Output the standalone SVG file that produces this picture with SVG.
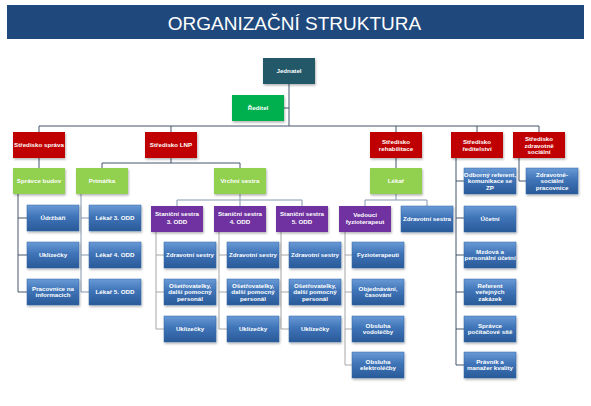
<svg xmlns="http://www.w3.org/2000/svg" width="591" height="406" viewBox="0 0 591 406">
<defs>
<linearGradient id="gBlue" x1="0" y1="0" x2="0" y2="1">
<stop offset="0" stop-color="#6a9ad6"/>
<stop offset="0.45" stop-color="#3f74b8"/>
<stop offset="1" stop-color="#2a5a98"/>
</linearGradient>
<filter id="sh" x="-10%" y="-10%" width="130%" height="140%">
<feDropShadow dx="0.8" dy="1.5" stdDeviation="0.8" flood-color="#000" flood-opacity="0.3"/>
</filter>
</defs>
<style>
.t{font-family:"Liberation Sans",Arial,sans-serif;font-size:6.2px;font-weight:bold;fill:#fff;text-anchor:middle}
.blue{fill:url(#gBlue);stroke:#3567a6;stroke-width:0.5;filter:url(#sh)}
.red{fill:#c00000;filter:url(#sh)}
.lg{fill:#92d050;filter:url(#sh)}
.dg{fill:#00b050;filter:url(#sh)}
.pu{fill:#7030a0;filter:url(#sh)}
.te{fill:#215868;filter:url(#sh)}
.c1{stroke:#44546a;stroke-width:1;fill:none}
.c2{stroke:#8497b0;stroke-width:1;fill:none}
.c3{stroke:#a6a6a6;stroke-width:1;fill:none}
</style>
<rect x="0" y="0" width="591" height="406" fill="#fff"/>
<g id="header">
<rect x="7" y="5" width="577" height="34" fill="#1f497d"/>
<text x="294.5" y="30" font-family="'Liberation Sans',Arial,sans-serif" font-size="19" fill="#fff" text-anchor="middle">ORGANIZAČNÍ STRUKTURA</text>
</g>
<g id="connectors">
<path class="c1" d="M289 84V126M284 108H289M39 126H539M39 126V132M171 126V132M396 126V132M477 126V132M539 126V132"/>
<path class="c1" d="M39 158V168M171 158V163M102 163H240M102 163V168M240 163V168M396 158V168M456 158V365M456 181H464M456 218H464M456 255H464M456 292H464M456 329H464M456 365H464M519 158V181H526"/>
<path class="c1" d="M18 194V292M18 218H27M18 255H27M18 292H27"/>
<path class="c2" d="M81 194V292M81 218H89M81 255H89M81 292H89"/>
<path class="c2" d="M240 194V200M177 200H302M177 200V206M240 200V206M302 200V206M396 194V200M365 200H427M365 200V206M427 200V206"/>
<path class="c3" d="M156 232V329M156 255H164M156 292H164M156 329H164M219 232V329M219 255H227M219 292H227M219 329H227M281 232V329M281 255H289M281 292H289M281 329H289M345 232V365M345 255H352M345 292H352M345 329H352M345 365H352"/>
</g>
<g id="jednatel"><rect class="te" x="263" y="58" width="52" height="26"/><text class="t" x="289" y="73">Jednatel</text></g>
<g id="reditel"><rect class="dg" x="232" y="95" width="52" height="26"/><text class="t" x="258" y="110">Ředitel</text></g>
<g id="str-sprava"><rect class="red" x="13" y="132" width="52" height="26"/><text class="t" x="39" y="147">Středisko správa</text></g>
<g id="str-lnp"><rect class="red" x="145" y="132" width="52" height="26"/><text class="t" x="171" y="147">Středisko LNP</text></g>
<g id="str-rehab"><rect class="red" x="370" y="132" width="52" height="26"/><text class="t" x="396" y="144">Středisko</text><text class="t" x="396" y="150.5">rehabilitace</text></g>
<g id="str-reditelstvi"><rect class="red" x="451" y="132" width="52" height="26"/><text class="t" x="477" y="144">Středisko</text><text class="t" x="477" y="150.5">ředitelství</text></g>
<g id="str-zdrsoc"><rect class="red" x="513" y="132" width="52" height="26"/><text class="t" x="539" y="141">Středisko</text><text class="t" x="539" y="147.5">zdravotně</text><text class="t" x="539" y="154">sociální</text></g>
<g id="spravce-budov"><rect class="lg" x="13" y="168" width="52" height="26"/><text class="t" x="39" y="183">Správce budov</text></g>
<g id="primarka"><rect class="lg" x="76" y="168" width="52" height="26"/><text class="t" x="102" y="183">Primářka</text></g>
<g id="vrchni-sestra"><rect class="lg" x="214" y="168" width="52" height="26"/><text class="t" x="240" y="183">Vrchní sestra</text></g>
<g id="lekar"><rect class="lg" x="370" y="168" width="52" height="26"/><text class="t" x="396" y="183">Lékař</text></g>
<g id="odborny-referent"><rect class="blue" x="464" y="168" width="52" height="26"/><text class="t" x="490" y="176.5">Odborný referent,</text><text class="t" x="490" y="183.2">komunikace se</text><text class="t" x="490" y="190">ZP</text></g>
<g id="zdrsoc-pracovnice"><rect class="blue" x="526" y="168" width="52" height="26"/><text class="t" x="552" y="176.5">Zdravotně-</text><text class="t" x="552" y="183.2">sociální</text><text class="t" x="552" y="190">pracovnice</text></g>
<g id="udrzbari"><rect class="blue" x="27" y="205" width="52" height="26"/><text class="t" x="53" y="220">Údržbáři</text></g>
<g id="uklizecky-1"><rect class="blue" x="27" y="242" width="52" height="26"/><text class="t" x="53" y="257">Uklízečky</text></g>
<g id="pracovnice-info"><rect class="blue" x="27" y="279" width="52" height="26"/><text class="t" x="53" y="290.5">Pracovnice na</text><text class="t" x="53" y="297">informacích</text></g>
<g id="lekar3"><rect class="blue" x="89" y="205" width="52" height="26"/><text class="t" x="115" y="220">Lékař 3. ODD</text></g>
<g id="lekar4"><rect class="blue" x="89" y="242" width="52" height="26"/><text class="t" x="115" y="257">Lékař 4. ODD</text></g>
<g id="lekar5"><rect class="blue" x="89" y="279" width="52" height="26"/><text class="t" x="115" y="294">Lékař 5. ODD</text></g>
<g id="stanicni3"><rect class="pu" x="151" y="206" width="52" height="26"/><text class="t" x="177" y="215.5">Staniční sestra</text><text class="t" x="177" y="224">3. ODD</text></g>
<g id="stanicni4"><rect class="pu" x="214" y="206" width="52" height="26"/><text class="t" x="240" y="215.5">Staniční sestra</text><text class="t" x="240" y="224">4. ODD</text></g>
<g id="stanicni5"><rect class="pu" x="276" y="206" width="52" height="26"/><text class="t" x="302" y="215.5">Staniční sestra</text><text class="t" x="302" y="224">5. ODD</text></g>
<g id="zdr-sestry3"><rect class="blue" x="164" y="242" width="52" height="26"/><text class="t" x="190" y="257">Zdravotní sestry</text></g>
<g id="zdr-sestry4"><rect class="blue" x="227" y="242" width="52" height="26"/><text class="t" x="253" y="257">Zdravotní sestry</text></g>
<g id="zdr-sestry5"><rect class="blue" x="289" y="242" width="52" height="26"/><text class="t" x="315" y="257">Zdravotní sestry</text></g>
<g id="osetrovatelky3"><rect class="blue" x="164" y="279" width="52" height="26"/><text class="t" x="190" y="287.5">Ošetřovatelky,</text><text class="t" x="190" y="294">další pomocný</text><text class="t" x="190" y="300.5">personál</text></g>
<g id="osetrovatelky4"><rect class="blue" x="227" y="279" width="52" height="26"/><text class="t" x="253" y="287.5">Ošetřovatelky,</text><text class="t" x="253" y="294">další pomocný</text><text class="t" x="253" y="300.5">personál</text></g>
<g id="osetrovatelky5"><rect class="blue" x="289" y="279" width="52" height="26"/><text class="t" x="315" y="287.5">Ošetřovatelky,</text><text class="t" x="315" y="294">další pomocný</text><text class="t" x="315" y="300.5">personál</text></g>
<g id="uklizecky3"><rect class="blue" x="164" y="316" width="52" height="26"/><text class="t" x="190" y="331">Uklízečky</text></g>
<g id="uklizecky4"><rect class="blue" x="227" y="316" width="52" height="26"/><text class="t" x="253" y="331">Uklízečky</text></g>
<g id="uklizecky5"><rect class="blue" x="289" y="316" width="52" height="26"/><text class="t" x="315" y="331">Uklízečky</text></g>
<g id="vedouci-fyzio"><rect class="pu" x="339" y="206" width="52" height="26"/><text class="t" x="365" y="216.5">Vedoucí</text><text class="t" x="365" y="223.5">fyzioterapeut</text></g>
<g id="zdr-sestra"><rect class="blue" x="401" y="206" width="52" height="26"/><text class="t" x="427" y="221">Zdravotní sestra</text></g>
<g id="fyzioterapeuti"><rect class="blue" x="352" y="242" width="52" height="26"/><text class="t" x="378" y="257">Fyzioterapeuti</text></g>
<g id="objednavani"><rect class="blue" x="352" y="279" width="52" height="26"/><text class="t" x="378" y="290.5">Objednávání,</text><text class="t" x="378" y="297">časování</text></g>
<g id="vodolecba"><rect class="blue" x="352" y="316" width="52" height="26"/><text class="t" x="378" y="327.5">Obsluha</text><text class="t" x="378" y="334">vodoléčby</text></g>
<g id="elektrolecba"><rect class="blue" x="352" y="352" width="52" height="26"/><text class="t" x="378" y="363.5">Obsluha</text><text class="t" x="378" y="370">elektroléčby</text></g>
<g id="ucetni"><rect class="blue" x="464" y="206" width="52" height="26"/><text class="t" x="490" y="221">Účetní</text></g>
<g id="mzdova"><rect class="blue" x="464" y="242" width="52" height="26"/><text class="t" x="490" y="253.5">Mzdová a</text><text class="t" x="490" y="260">personální účetní</text></g>
<g id="referent-vz"><rect class="blue" x="464" y="279" width="52" height="26"/><text class="t" x="490" y="287.5">Referent</text><text class="t" x="490" y="294">veřejných</text><text class="t" x="490" y="300.5">zakázek</text></g>
<g id="spravce-site"><rect class="blue" x="464" y="316" width="52" height="26"/><text class="t" x="490" y="327.5">Správce</text><text class="t" x="490" y="334">počítačové sítě</text></g>
<g id="pravnik"><rect class="blue" x="464" y="352" width="52" height="26"/><text class="t" x="490" y="363.5">Právník a</text><text class="t" x="490" y="370">manažer kvality</text></g>
</svg>
